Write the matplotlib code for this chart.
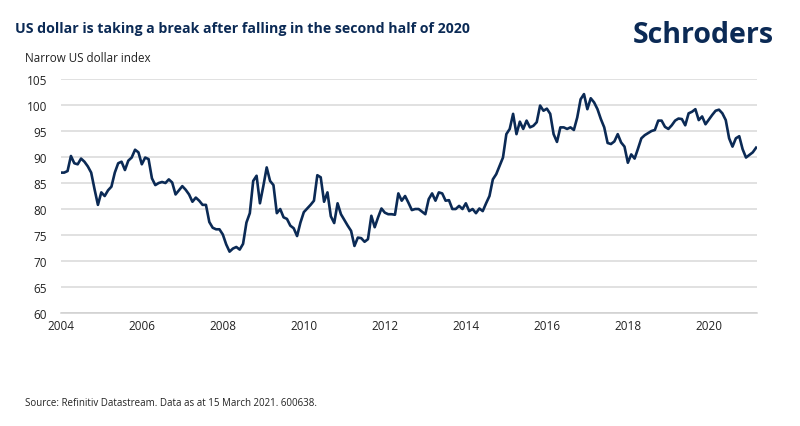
import matplotlib.pyplot as plt
import numpy as np

plt.rcParams['font.family'] = ['Open Sans', 'DejaVu Sans']

# Narrow US dollar index, monthly from Jan 2004
index_vals = [
    87.0, 87.0, 87.3, 90.2, 88.8, 88.6, 89.7, 89.1, 88.2, 87.0, 83.8, 80.8,   # 2004
    83.2, 82.5, 83.6, 84.3, 87.0, 88.8, 89.1, 87.5, 89.3, 89.9, 91.4, 90.9,   # 2005
    88.6, 89.9, 89.6, 85.9, 84.6, 85.0, 85.2, 85.0, 85.7, 85.1, 82.8, 83.6,   # 2006
    84.4, 83.7, 82.8, 81.4, 82.2, 81.6, 80.8, 80.8, 77.5, 76.4, 76.1, 76.1,   # 2007
    75.1, 73.2, 71.8, 72.4, 72.7, 72.2, 73.3, 77.4, 79.2, 85.4, 86.4, 81.1,   # 2008
    84.4, 88.0, 85.4, 84.6, 79.2, 80.0, 78.4, 78.1, 76.8, 76.3, 74.8, 77.4,   # 2009
    79.4, 80.1, 80.8, 81.6, 86.5, 86.1, 81.4, 83.2, 78.6, 77.3, 81.1, 79.0,   # 2010
    77.9, 76.8, 75.8, 72.9, 74.5, 74.4, 73.7, 74.2, 78.7, 76.5, 78.4, 80.1,   # 2011
    79.3, 79.0, 79.0, 78.9, 83.0, 81.6, 82.5, 81.2, 79.8, 80.0, 80.0, 79.5,   # 2012
    79.0, 81.9, 83.0, 81.6, 83.2, 83.0, 81.6, 81.7, 80.0, 80.0, 80.6, 80.0,   # 2013
    81.1, 79.6, 80.0, 79.2, 80.1, 79.6, 81.1, 82.5, 85.7, 86.7, 88.3, 89.9,   # 2014
    94.4, 95.4, 98.3, 94.4, 96.8, 95.4, 97.0, 95.7, 96.0, 96.7, 99.9, 98.9,   # 2015
    99.3, 98.3, 94.4, 92.9, 95.7, 95.7, 95.4, 95.7, 95.2, 97.6, 101.1, 102.1, # 2016
    99.2, 101.3, 100.5, 99.2, 97.3, 95.7, 92.7, 92.5, 93.0, 94.4, 92.8, 92.0, # 2017
    88.9, 90.5, 89.7, 91.6, 93.6, 94.2, 94.6, 95.0, 95.2, 97.0, 97.0, 95.8,   # 2018
    95.4, 96.1, 97.0, 97.4, 97.3, 96.1, 98.4, 98.7, 99.2, 97.1, 97.8, 96.3,   # 2019
    97.2, 98.1, 98.9, 99.1, 98.4, 97.1, 93.6, 92.0, 93.6, 94.0, 91.5, 89.9,   # 2020
    90.4, 90.9, 91.8,                                                         # 2021
]
years = 2004 + np.arange(len(index_vals)) / 12
year_ticks = [2004, 2006, 2008, 2010, 2012, 2014, 2016, 2018, 2020]
y_ticks = [60, 65, 70, 75, 80, 85, 90, 95, 100, 105]

navy = '#0b2a55'

fig = plt.figure(figsize=(8, 4.27), dpi=100)
ax = fig.add_axes([0.076, 0.2646, 0.87, 0.548])

ax.plot(years, index_vals, color=navy, linewidth=1.9, solid_joinstyle='round', zorder=3)

ax.set_xlim(2004, 2004 + 206.2 / 12)
ax.set_ylim(60, 105)
ax.set_xticks(year_ticks)
ax.set_yticks(y_ticks)
ax.grid(True, axis='y', color='#d9d9d9', linewidth=1.1)
ax.set_axisbelow(True)
for s in ['top', 'right', 'left']:
    ax.spines[s].set_visible(False)
ax.spines['bottom'].set_color('#d0d0d0')
ax.spines['bottom'].set_linewidth(1.1)
ax.tick_params(axis='both', length=0, labelsize=8.5, colors='#222222')
ax.tick_params(axis='y', pad=10)
ax.tick_params(axis='x', pad=4)

# Texts
fig.text(0.019, 0.932, 'US dollar is taking a break after falling in the second half of 2020',
         fontsize=10.2, fontweight='bold', color=navy, va='center')
fig.text(0.031, 0.862, 'Narrow US dollar index', fontsize=8.4, color='#222222', va='center')
fig.text(0.967, 0.918, 'Schroders', fontsize=20.5, fontweight='bold', color=navy,
         ha='right', va='center')
fig.text(0.031, 0.055, 'Source: Refinitiv Datastream. Data as at 15 March 2021. 600638.',
         fontsize=7, color='#222222', va='center')

plt.savefig('out.png', dpi=100)
